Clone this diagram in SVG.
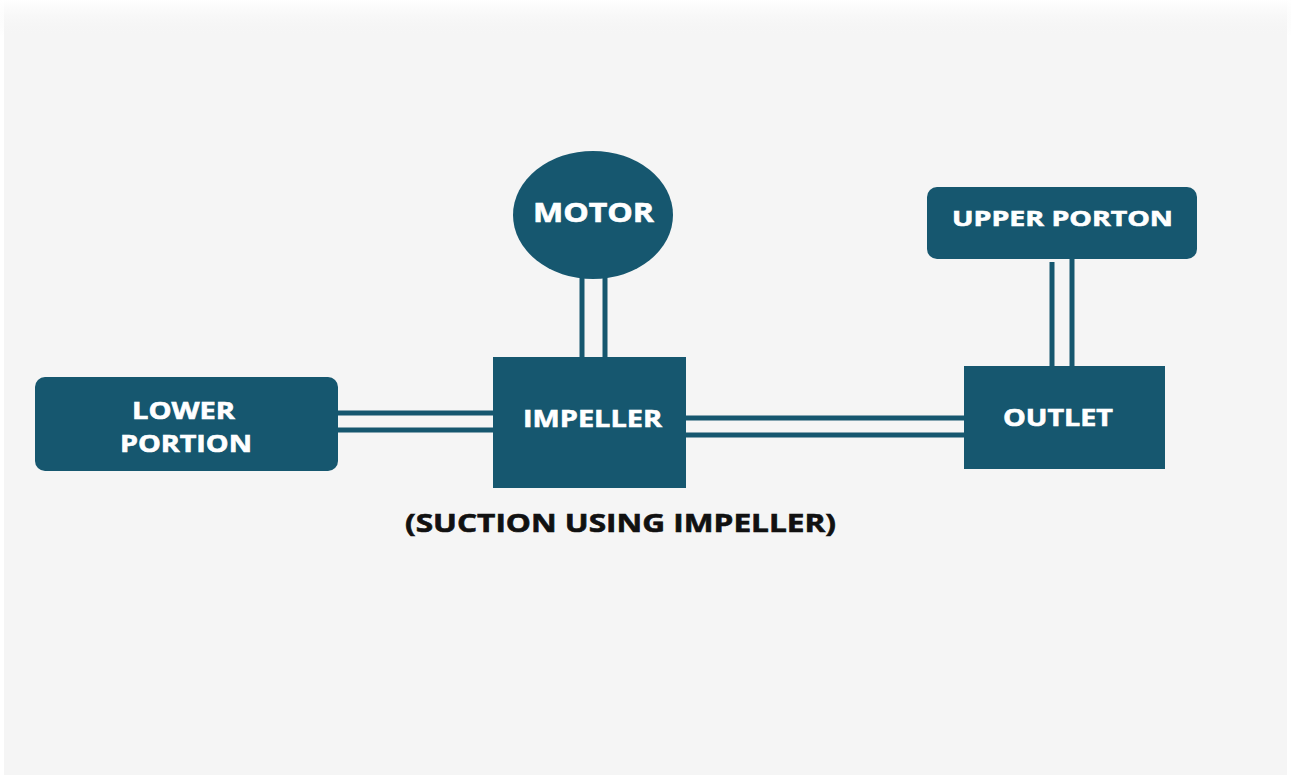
<svg xmlns="http://www.w3.org/2000/svg" width="1291" height="778" viewBox="0 0 1291 778">
<defs>
<style>
.node{fill:#16576f}
.pipe{stroke:#16576f;stroke-width:5;fill:none}
.lbl{font-family:"Open Sans","Liberation Sans",sans-serif;font-weight:700;fill:#ffffff;stroke:#ffffff;stroke-width:0.6}
.cap{font-family:"Open Sans","Liberation Sans",sans-serif;font-weight:700;fill:#111111;stroke:#111111;stroke-width:0.6}
</style>
<linearGradient id="topfade" x1="0" y1="0" x2="0" y2="1">
<stop offset="0" stop-color="#ffffff"/>
<stop offset="1" stop-color="#f5f5f5" stop-opacity="0"/>
</linearGradient>
</defs>
<rect x="0" y="0" width="1291" height="778" fill="#ffffff"/>
<rect x="4" y="0" width="1283" height="775" fill="#f5f5f5"/>
<rect x="0" y="0" width="1291" height="36" fill="url(#topfade)"/>
<g id="connectors">
<line class="pipe" x1="582" y1="276" x2="582" y2="358"/>
<line class="pipe" x1="605" y1="276" x2="605" y2="358"/>
<line class="pipe" x1="336" y1="413" x2="494" y2="413"/>
<line class="pipe" x1="336" y1="430" x2="494" y2="430"/>
<line class="pipe" x1="684" y1="418" x2="966" y2="418"/>
<line class="pipe" x1="684" y1="435" x2="966" y2="435"/>
<line class="pipe" x1="1052" y1="262" x2="1052" y2="367"/>
<line class="pipe" x1="1072" y1="259" x2="1072" y2="367"/>
</g>
<g id="motor">
<ellipse class="node" cx="593" cy="215" rx="80" ry="64"/>
<text class="lbl" x="533" y="222" font-size="26" textLength="121" lengthAdjust="spacingAndGlyphs">MOTOR</text>
</g>
<g id="impeller">
<rect class="node" x="493" y="357" width="193" height="131"/>
<text class="lbl" x="523" y="427" font-size="24" textLength="139" lengthAdjust="spacingAndGlyphs">IMPELLER</text>
</g>
<g id="lower-portion">
<rect class="node" x="35" y="377" width="303" height="94" rx="10"/>
<text class="lbl" x="132" y="419" font-size="23" textLength="103" lengthAdjust="spacingAndGlyphs">LOWER</text>
<text class="lbl" x="120" y="452" font-size="23" textLength="132" lengthAdjust="spacingAndGlyphs">PORTION</text>
</g>
<g id="outlet">
<rect class="node" x="964" y="366" width="201" height="103"/>
<text class="lbl" x="1003" y="426" font-size="23" textLength="110" lengthAdjust="spacingAndGlyphs">OUTLET</text>
</g>
<g id="upper-porton">
<rect class="node" x="927" y="187" width="270" height="72" rx="10"/>
<text class="lbl" x="952" y="226" font-size="21" textLength="221" lengthAdjust="spacingAndGlyphs">UPPER PORTON</text>
</g>
<g id="caption">
<text class="cap" x="405" y="532" font-size="25" textLength="431" lengthAdjust="spacingAndGlyphs">(SUCTION USING IMPELLER)</text>
</g>
</svg>
